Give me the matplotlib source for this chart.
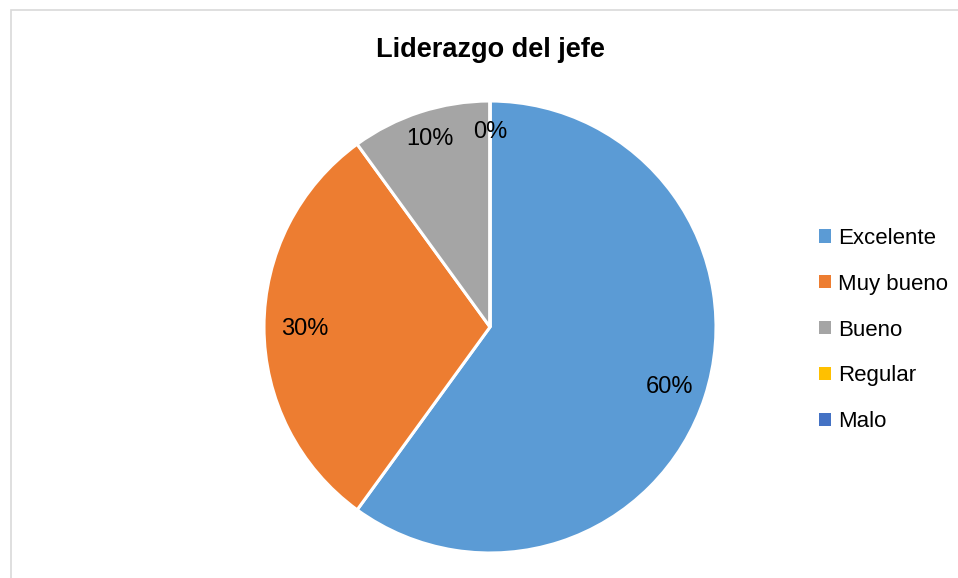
import matplotlib
matplotlib.use("Agg")
import matplotlib.pyplot as plt
from matplotlib.patches import Rectangle
from matplotlib import font_manager

categories = ["Excelente", "Muy bueno", "Bueno", "Regular", "Malo"]
values = [60, 30, 10, 0, 0]
colors = ["#5B9BD5", "#ED7D31", "#A5A5A5", "#FFC000", "#4472C4"]
title = "Liderazgo del jefe"

names = {f.name for f in font_manager.fontManager.ttflist}
narrow = "Liberation Sans Narrow" if "Liberation Sans Narrow" in names else "Liberation Sans"
plt.rcParams["font.family"] = [narrow, "DejaVu Sans"]

fig = plt.figure(figsize=(9.58, 5.78), dpi=100)
fig.patches.append(Rectangle((11 / 958, -0.05), 1.2, (578 - 10) / 578 + 0.05,
                             transform=fig.transFigure, fill=False,
                             edgecolor="#D9D9D9", linewidth=1.2))

# pie area: centre (490, 327), radius 226 px
ax = fig.add_axes([(490 - 226) / 958, (578 - 327 - 226) / 578, 452 / 958, 452 / 578])
wedges, _ = ax.pie(values, colors=colors, startangle=90, counterclock=False,
                   wedgeprops=dict(edgecolor="white", linewidth=2.2))
ax.set_aspect("equal")
ax.set_xlim(-1, 1)
ax.set_ylim(-1, 1)

# percentage labels
label_pos = [(0.795, -0.265), (-0.82, -0.01), (-0.265, 0.83), (0.0, 0.865)]
for (x, y), v in zip(label_pos, values[:4]):
    ax.text(x, y, f"{v}%", ha="center", va="center", fontsize=17, color="#000000")

fig.text(490 / 958, 1 - 50 / 578, title, ha="center", va="center",
         fontsize=19.5, fontweight="bold", color="#000000")

handles = [Rectangle((0, 0), 1, 1, facecolor=c, edgecolor="none") for c in colors]
fig.legend(handles, categories, loc="center left",
           bbox_to_anchor=(799 / 958, 1 - 330 / 578), frameon=False,
           fontsize=16, handlelength=0.55, handleheight=0.55,
           handletextpad=0.32, labelspacing=1.12)

fig.savefig("out.png", dpi=100)
